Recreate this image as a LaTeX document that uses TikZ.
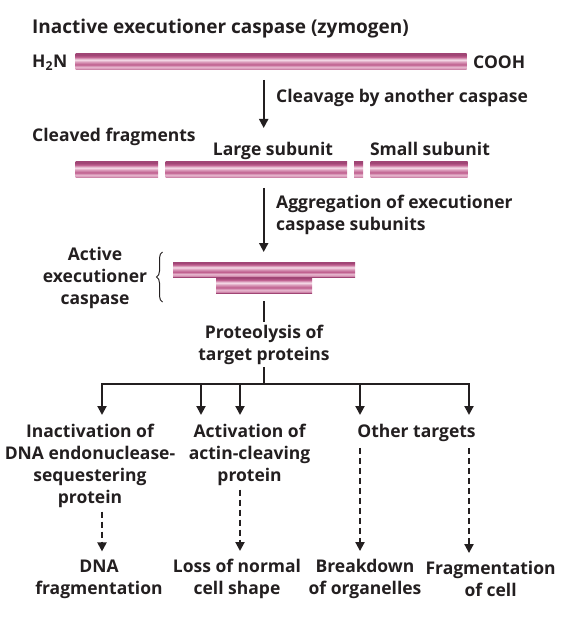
\documentclass[tikz,border=0pt]{standalone}
\usepackage{fontspec}
\setmainfont{Open Sans}
\usetikzlibrary{arrows.meta,decorations.pathreplacing}
\definecolor{ink}{HTML}{231F20}
\definecolor{bd}{HTML}{A04575}
\definecolor{bm}{HTML}{BE5D8D}
\definecolor{bp}{HTML}{D998B8}
\definecolor{bl}{HTML}{F6DDE9}
\definecolor{blt}{HTML}{E6B5CD}
\pgfdeclareverticalshading{barsh}{100bp}{color(0bp)=(bd); color(25bp)=(bd); color(29bp)=(bp); color(35bp)=(blt); color(42bp)=(bm); color(50bp)=(bp); color(57bp)=(bl); color(66bp)=(bm); color(72bp)=(bd); color(75bp)=(bd); color(100bp)=(bd)}
\begin{document}
\begin{tikzpicture}[x=1pt,y=-1pt,
  every node/.style={font=\bfseries\fontsize{17.5}{22}\selectfont, text=ink, inner sep=0pt},
  pbar/.style={rectangle, draw=none, shading=barsh, minimum height=16pt},
  ln/.style={draw=ink, line width=2pt},
  arr/.style={ln, -{Triangle[length=9pt,width=9pt]}},
  darr/.style={arr, dash pattern=on 6pt off 4pt},
  txt/.style={align=center}]
\useasboundingbox (0,0) rectangle (564,636);

% zymogen
\node[anchor=base west, font=\bfseries\fontsize{19}{22}\selectfont] (title) at (32,34) {Inactive executioner caspase (zymogen)};
\node[anchor=base west] (h2n) at (32,67.5) {H\textsubscript{2}N};
\node[pbar, minimum width=391pt] (zym) at (271,62) {};
\node[anchor=base west] (cooh) at (473,68.5) {COOH};

\coordinate (a1s) at (263.7,80);
\coordinate (a1e) at (263.7,128);
\draw[arr] (a1s) -- (a1e);
\node[anchor=base west] (cleav) at (276,102.5) {Cleavage by another caspase};

% fragments
\node[anchor=base west] (cfrag) at (32,141.5) {Cleaved fragments};
\node[anchor=base] (large) at (273,155.5) {Large subunit};
\node[anchor=base] (small) at (430,155.5) {Small subunit};
\node[pbar, minimum width=82.5pt] (f1) at (116.75,170) {};
\node[pbar, minimum width=181.5pt] (f2) at (256.25,170) {};
\node[pbar, minimum width=9pt] (f3) at (358.5,170) {};
\node[pbar, minimum width=97pt] (f4) at (419,170) {};

\coordinate (a2s) at (263.7,188);
\coordinate (a2e) at (263.7,252);
\draw[arr] (a2s) -- (a2e);
\node[anchor=west, align=left] (aggr) at (276,215) {Aggregation of executioner\\caspase subunits};

% active caspase
\node[txt] (active) at (95,278) {Active\\executioner\\caspase};
\draw[decorate, decoration={brace, amplitude=6pt}, draw=ink, line width=1pt] (162.5,302) -- (162.5,252);
\node[pbar, minimum width=96pt, minimum height=16pt] (actlow) at (264,285) {};
\node[pbar, minimum width=182pt, minimum height=15pt] (acttop) at (264,269.5) {};

\node[txt] (prot) at (264,344.5) {Proteolysis of\\target proteins};
\draw[ln, shorten <=8pt, shorten >=3pt] (actlow.south) -- (prot.north);
\coordinate (hub) at (264,384);
\draw[ln] (prot.south) ++(0,3) -- (hub);

% branches
\coordinate (b1) at (102,415);
\coordinate (b2) at (201,415);
\coordinate (b3) at (240,415);
\coordinate (b4) at (360,415);
\coordinate (b5) at (469,415);
\draw[arr] (hub) -| (b1);
\draw[arr] (hub) -| (b5);
\draw[arr] (b2 |- hub) -- (b2);
\draw[arr] (b3 |- hub) -- (b3);
\draw[arr] (b4 |- hub) -- (b4);

\node[txt] (inact) at (90,465.5) {Inactivation of\\DNA endonuclease-\\sequestering\\protein};
\node[txt] (activ) at (249.6,454.5) {Activation of\\actin-cleaving\\protein};
\node[anchor=base] (other) at (416.5,437.5) {Other targets};

\node[txt] (dnaf) at (99,579) {DNA\\fragmentation};
\node[txt] (loss) at (237,579) {Loss of normal\\cell shape};
\node[txt] (brk) at (365,579) {Breakdown\\of organelles};
\node[txt] (frag) at (490.6,579) {Fragmentation\\of cell};

\draw[darr, shorten <=4pt, shorten >=8pt] (b1 |- inact.south) -- (b1 |- dnaf.north);
\draw[darr, shorten <=4pt, shorten >=8pt] (b3 |- activ.south) -- (b3 |- loss.north);
\draw[darr, shorten <=6pt, shorten >=8pt] (b4 |- other.south) -- (b4 |- brk.north);
\draw[darr, shorten <=6pt, shorten >=8pt] (b5 |- other.south) -- (b5 |- frag.north);
\end{tikzpicture}
\end{document}
